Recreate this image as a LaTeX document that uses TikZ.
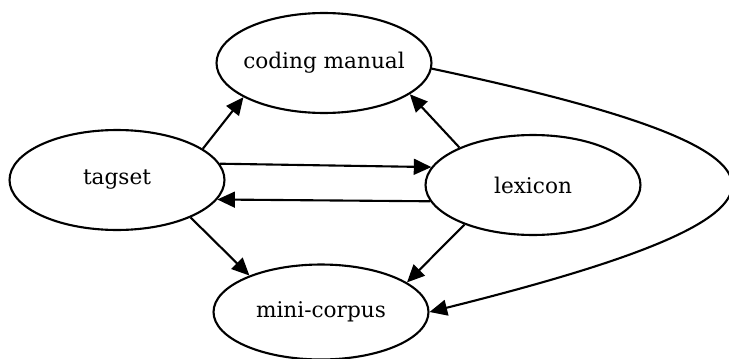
\documentclass[tikz,border=0pt]{standalone}
\usepackage{fontspec}
\setmainfont{DejaVu Serif}
\usetikzlibrary{positioning,shapes.geometric,arrows.meta}

\begin{document}
\begin{tikzpicture}[x=0.02cm,y=0.02cm,
	doc/.style={ellipse,draw,line width=1.2pt,inner ysep=0pt,inner xsep=-6pt,minimum width=4.3cm,minimum height=2cm,font=\fontsize{12.3}{14}\selectfont},
	link/.style={line width=1.2pt,-{Triangle[length=10pt,width=9pt]}}]
	
	\useasboundingbox (0,0) rectangle (729,-358);
	
	\node[doc] (tagset) at (117,-180) {tagset};
	\node[doc] (coding) at (324,-63) {coding manual};
	\node[doc] (lexicon) at (533,-185) {lexicon};
	\node[doc,minimum height=1.9cm] (mini) at (321,-312) {mini-corpus};
	
	\draw[link] (tagset.20) -- (coding.203);
	\draw[link] (lexicon.153) -- (coding.340);
	\draw[link] (tagset.9) -- (lexicon.170);
	\draw[link] (lexicon.189) -- (tagset.349);
	\draw[link] (tagset.333) -- (mini.153);
	\draw[link] (lexicon.210) -- (mini.19);
	\draw[link] (coding.-3) to[out=-12,in=14,looseness=4.3] (mini.east);
\end{tikzpicture}
\end{document}
